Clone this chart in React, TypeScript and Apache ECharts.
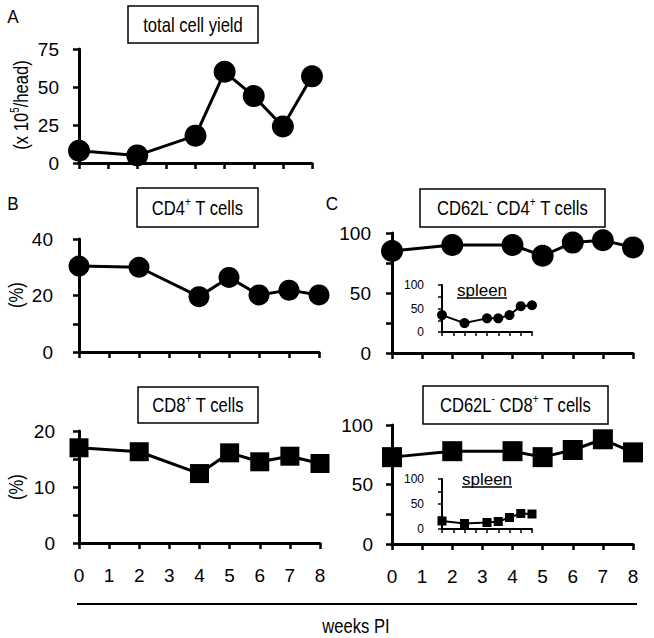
import React, { useEffect, useRef } from "react";
import * as echarts from "echarts";

const weeks = [0, 2, 4, 5, 6, 7, 8];
const totalYield = [8, 5, 18, 60, 44, 24, 57];
const cd4 = [30.4, 30.0, 19.6, 26.4, 20.2, 21.9, 20.2];
const cd8 = [17.0, 16.3, 12.4, 16.1, 14.5, 15.5, 14.2];
const cd62lCd4 = [85, 90, 90, 81, 92, 94, 88];
const cd62lCd8 = [73, 78, 78, 73, 79, 88, 77];
const spleenCd4 = [36, 19, 29, 29, 36, 55, 57];
const spleenCd8 = [16, 11, 13, 15, 23, 31, 30];
const weekTicks = ["0", "1", "2", "3", "4", "5", "6", "7", "8"];

const FONT = "'Liberation Sans', Arial, sans-serif";
const BLACK = "#000";
const NARROW = 0.83;

const grids = [
  { left: 79, top: 49, width: 233, height: 114 },
  { left: 79, top: 239, width: 240, height: 113 },
  { left: 392, top: 233, width: 241, height: 120 },
  { left: 79, top: 431, width: 241, height: 112 },
  { left: 392, top: 425, width: 241, height: 119 },
  { left: 442, top: 285, width: 90, height: 47 },
  { left: 442, top: 479, width: 90, height: 50 },
];

function xAxis(gridIndex: number, showLabel: boolean, inset = false) {
  return {
    type: "value",
    gridIndex,
    min: 0,
    max: 8,
    interval: 1,
    axisLine: { show: true, lineStyle: { color: BLACK, width: inset ? 2 : 3 } },
    axisTick: { show: true, length: inset ? 4 : 6, lineStyle: { color: BLACK, width: inset ? 1.5 : 2.5 } },
    axisLabel: {
      show: showLabel,
      margin: 23,
      fontSize: 19,
      color: BLACK,
      fontFamily: FONT,
      formatter: (v: number) => weekTicks[Math.round(v)] ?? "",
    },
    splitLine: { show: false },
  };
}

function yAxis(gridIndex: number, max: number, interval: number, labelStep: number, margin: number, inset = false) {
  return {
    type: "value",
    gridIndex,
    min: 0,
    max,
    interval,
    axisLine: { show: true, lineStyle: { color: BLACK, width: inset ? 2 : 3 } },
    axisTick: { show: true, length: inset ? 4 : 6, lineStyle: { color: BLACK, width: inset ? 1.5 : 2.5 } },
    axisLabel: {
      margin,
      fontSize: inset ? 12 : 19,
      color: BLACK,
      fontFamily: FONT,
      formatter: (v: number) => (Math.round(v) % labelStep === 0 ? String(v) : ""),
    },
    splitLine: { show: false },
  };
}

function series(idx: number, vals: number[], symbol: string, size: number, lw: number) {
  return {
    type: "line",
    xAxisIndex: idx,
    yAxisIndex: idx,
    data: weeks.map((w, i) => [w, vals[i]]),
    symbol,
    symbolSize: size,
    showSymbol: true,
    clip: false,
    lineStyle: { color: BLACK, width: lw },
    itemStyle: { color: BLACK, borderWidth: 0 },
    z: 5,
  };
}

const richBase = {
  n: { fontSize: 20, lineHeight: 24, fontFamily: FONT, color: BLACK },
  s: { fontSize: 12, lineHeight: 12, fontFamily: FONT, verticalAlign: "top", color: BLACK },
};

function titleBox(x: number, y: number, w: number, h: number, text: string) {
  return [
    {
      type: "rect",
      shape: { x, y, width: w, height: h },
      style: { fill: "#fff", stroke: BLACK, lineWidth: 1.5 },
      z: 10,
    },
    {
      type: "text",
      x: x + w / 2,
      y: y + h / 2,
      scaleX: NARROW,
      style: {
        text,
        rich: richBase,
        align: "center",
        verticalAlign: "middle",
        font: `20px ${FONT}`,
        fill: BLACK,
      },
      z: 11,
    },
  ];
}

function plainText(x: number, y: number, text: string, size: number, extra: any = {}) {
  return {
    type: "text",
    x,
    y,
    style: { text, font: `${size}px ${FONT}`, fill: BLACK, align: "center", verticalAlign: "middle" },
    z: 11,
    ...extra,
  };
}

export default function App() {
  const ref = useRef<HTMLDivElement>(null);
  useEffect(() => {
    if (!ref.current) return;
    const chart = echarts.init(ref.current, undefined, { renderer: "svg" });
    const option = {
      animation: false,
      backgroundColor: "#fff",
      grid: grids.map((g) => ({ ...g, containLabel: false })),
      xAxis: [
        xAxis(0, false),
        xAxis(1, false),
        xAxis(2, false),
        xAxis(3, true),
        xAxis(4, true),
        xAxis(5, false, true),
        xAxis(6, false, true),
      ],
      yAxis: [
        yAxis(0, 75, 25, 25, 20),
        yAxis(1, 40, 10, 20, 26),
        yAxis(2, 100, 25, 50, 21),
        yAxis(3, 20, 5, 10, 24),
        yAxis(4, 100, 25, 50, 19),
        yAxis(5, 100, 25, 50, 18, true),
        yAxis(6, 100, 25, 50, 18, true),
      ],
      series: [
        series(0, totalYield, "circle", 22, 3),
        series(1, cd4, "circle", 21, 3),
        series(2, cd62lCd4, "circle", 22, 3),
        series(3, cd8, "rect", 19, 3),
        series(4, cd62lCd8, "rect", 20, 3),
        series(5, spleenCd4, "circle", 10, 2),
        series(6, spleenCd8, "rect", 9, 2),
      ],
      graphic: [
        ...titleBox(128, 6, 130, 37, "{n|total cell yield}"),
        ...titleBox(137, 188, 121, 39, "{n|CD4}{s|+}{n| T cells}"),
        ...titleBox(420, 189, 185, 38, "{n|CD62L}{s|-}{n| CD4}{s|+}{n| T cells}"),
        ...titleBox(138, 387, 120, 36, "{n|CD8}{s|+}{n| T cells}"),
        ...titleBox(423, 386, 185, 38, "{n|CD62L}{s|-}{n| CD8}{s|+}{n| T cells}"),
        plainText(13, 17, "A", 19, { scaleX: 0.9 }),
        plainText(13, 204, "B", 19, { scaleX: 0.9 }),
        plainText(332, 204, "C", 19, { scaleX: 0.9 }),
        {
          type: "text",
          x: 21,
          y: 105,
          rotation: Math.PI / 2,
          scaleX: NARROW,
          style: {
            text: "{n|(x 10}{s|5}{n|/head)}",
            rich: richBase,
            align: "center",
            verticalAlign: "middle",
            font: `20px ${FONT}`,
            fill: BLACK,
          },
          z: 11,
        },
        plainText(16, 295, "(%)", 20, { rotation: Math.PI / 2, scaleX: NARROW }),
        plainText(16, 487, "(%)", 20, { rotation: Math.PI / 2, scaleX: NARROW }),
        plainText(482, 290, "spleen", 17),
        { type: "line", shape: { x1: 457, y1: 298, x2: 507, y2: 298 }, style: { stroke: BLACK, lineWidth: 1.5 }, z: 11 },
        plainText(487, 479, "spleen", 17),
        { type: "line", shape: { x1: 462, y1: 487, x2: 512, y2: 487 }, style: { stroke: BLACK, lineWidth: 1.5 }, z: 11 },
        { type: "line", shape: { x1: 77, y1: 604, x2: 637, y2: 604 }, style: { stroke: BLACK, lineWidth: 2 }, z: 11 },
        plainText(356, 626, "weeks PI", 20, { scaleX: NARROW }),
      ],
    };
    chart.setOption(option as any);
    return () => chart.dispose();
  }, []);
  return <div ref={ref} style={{ position: "absolute", left: 0, top: 0, width: 654, height: 638 }} />;
}
